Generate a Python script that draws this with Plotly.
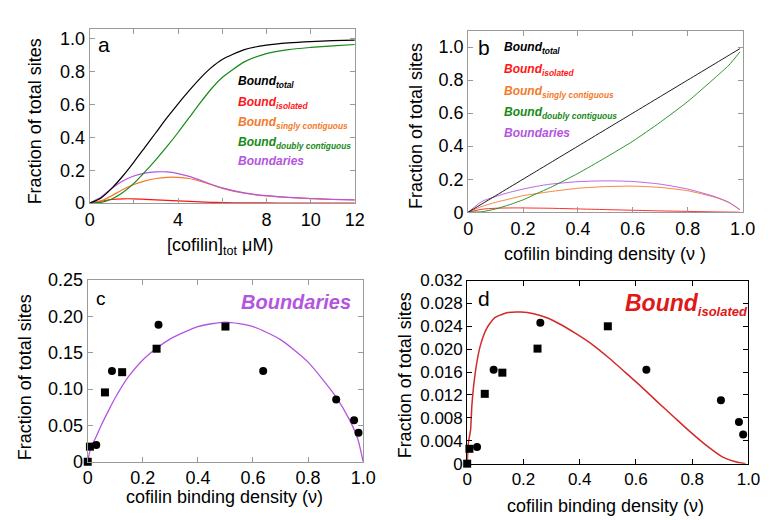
import plotly.graph_objects as go

# ---------------- Panel a data ----------------
a_x = [0, 0.5, 1, 1.5, 2, 2.5, 3, 3.5, 4, 4.5, 5, 5.5, 6, 7, 8, 9, 10, 11, 12]
a_total = [0, 0.03, 0.09, 0.165, 0.25, 0.34, 0.43, 0.52, 0.605, 0.685, 0.76, 0.825, 0.875, 0.935, 0.962, 0.976, 0.984, 0.989, 0.992]
a_isolated = [0, 0.012, 0.022, 0.026, 0.026, 0.023, 0.02, 0.016, 0.013, 0.01, 0.007, 0.005, 0.003, 0.0015, 0.001, 0.0005, 0.0003, 0.0002, 0.0001]
a_singly = [0, 0.012, 0.045, 0.083, 0.113, 0.135, 0.15, 0.157, 0.157, 0.15, 0.133, 0.112, 0.09, 0.06, 0.044, 0.034, 0.027, 0.022, 0.019]
a_doubly = [0, 0.004, 0.025, 0.065, 0.12, 0.19, 0.265, 0.345, 0.43, 0.52, 0.61, 0.695, 0.765, 0.86, 0.91, 0.935, 0.948, 0.958, 0.966]
a_boundaries = [0, 0.035, 0.09, 0.135, 0.165, 0.183, 0.19, 0.19, 0.18, 0.163, 0.14, 0.115, 0.093, 0.062, 0.045, 0.035, 0.028, 0.023, 0.02]
a_xticks = [0, 2, 4, 6, 8, 10, 12]
a_xticktext = ["0", "", "4", "", "8", "10", "12"]

# ---------------- Panel b data ----------------
b_x = [0, 0.05, 0.1, 0.15, 0.2, 0.25, 0.3, 0.4, 0.5, 0.6, 0.7, 0.8, 0.9, 0.95, 0.99]
b_total = [0, 0.05, 0.1, 0.15, 0.2, 0.25, 0.3, 0.4, 0.5, 0.6, 0.7, 0.8, 0.9, 0.95, 0.99]
b_isolated = [0, 0.018, 0.024, 0.026, 0.026, 0.025, 0.024, 0.02, 0.016, 0.012, 0.008, 0.005, 0.002, 0.001, 0]
b_singly = [0, 0.035, 0.06, 0.08, 0.1, 0.113, 0.125, 0.145, 0.155, 0.158, 0.15, 0.13, 0.09, 0.058, 0.015]
b_doubly = [0, 0.003, 0.02, 0.045, 0.075, 0.113, 0.15, 0.235, 0.33, 0.43, 0.545, 0.67, 0.815, 0.89, 0.97]
b_boundaries = [0, 0.065, 0.095, 0.12, 0.14, 0.157, 0.17, 0.185, 0.19, 0.186, 0.17, 0.14, 0.094, 0.06, 0.016]

# ---------------- Panel c data ----------------
c_curve_x = [0, 0.005, 0.01, 0.02, 0.03, 0.05, 0.075, 0.1, 0.125, 0.15, 0.2, 0.25, 0.3, 0.4, 0.5, 0.6, 0.7, 0.8, 0.9, 0.95, 0.98, 1.0]
c_curve_y = [0, 0.01, 0.017, 0.026, 0.034, 0.051, 0.07, 0.088, 0.104, 0.118, 0.14, 0.156, 0.169, 0.186, 0.192, 0.186, 0.168, 0.137, 0.09, 0.058, 0.032, 0]
c_circle_x = [0.031, 0.088, 0.257, 0.637, 0.902, 0.967, 0.983]
c_circle_y = [0.023, 0.125, 0.1886, 0.125, 0.0857, 0.057, 0.0398]
c_square_x = [0, 0.008, 0.0625, 0.125, 0.25, 0.5]
c_square_y = [0, 0.0208, 0.0954, 0.1232, 0.1555, 0.186]

# ---------------- Panel d data ----------------
d_curve_x = [0, 0.004, 0.012, 0.017, 0.029, 0.046, 0.069, 0.098, 0.145, 0.191, 0.237, 0.283, 0.329, 0.387, 0.445, 0.503, 0.561, 0.618, 0.676, 0.734, 0.792, 0.85, 0.907, 0.965, 0.99]
d_curve_y = [0, 0.0035, 0.0059, 0.0104, 0.016, 0.0205, 0.0236, 0.0255, 0.0264, 0.0265, 0.0262, 0.0255, 0.0244, 0.0227, 0.0208, 0.0185, 0.016, 0.0135, 0.0108, 0.0082, 0.0056, 0.0032, 0.0012, 0.0002, 0]
d_circle_x = [0.035, 0.094, 0.26, 0.637, 0.902, 0.966, 0.981]
d_circle_y = [0.0029, 0.0164, 0.0246, 0.0164, 0.0111, 0.0073, 0.0051]
d_square_x = [0, 0.008, 0.0625, 0.125, 0.25, 0.5]
d_square_y = [0, 0.0026, 0.0122, 0.0159, 0.0201, 0.024]

BLACK = "#000000"
RED = "#ff1515"
ORANGE = "#f47a2a"
GREEN = "#168a16"
PURPLE = "#b455e0"
DRED = "#d42a2a"

W, H = 774, 520
def px(x):
    return x / W
def py(y):
    return 1 - y / H

fig = go.Figure()

def line(x, y, color, xa, ya, width=1.2):
    fig.add_trace(go.Scatter(x=x, y=y, mode="lines", line=dict(color=color, width=width, shape="spline", smoothing=0.6),
                             xaxis=xa, yaxis=ya, showlegend=False, hoverinfo="skip"))

# panel a
for ys, col in [(a_isolated, RED), (a_singly, ORANGE), (a_boundaries, PURPLE), (a_doubly, GREEN), (a_total, BLACK)]:
    line(a_x, ys, col, "x", "y")
# panel b
for ys, col in [(b_isolated, RED), (b_singly, ORANGE), (b_boundaries, PURPLE), (b_doubly, GREEN), (b_total, BLACK)]:
    line(b_x, ys, col, "x2", "y2", width=0.9)
# panel c
line(c_curve_x, c_curve_y, PURPLE, "x3", "y3", width=1.3)
fig.add_trace(go.Scatter(x=c_circle_x, y=c_circle_y, mode="markers", marker=dict(symbol="circle", size=8, color=BLACK),
                         xaxis="x3", yaxis="y3", showlegend=False, cliponaxis=False))
fig.add_trace(go.Scatter(x=c_square_x, y=c_square_y, mode="markers", marker=dict(symbol="square", size=8, color=BLACK),
                         xaxis="x3", yaxis="y3", showlegend=False, cliponaxis=False))
# panel d
line(d_curve_x, d_curve_y, DRED, "x4", "y4", width=1.5)
fig.add_trace(go.Scatter(x=d_circle_x, y=d_circle_y, mode="markers", marker=dict(symbol="circle", size=8, color=BLACK),
                         xaxis="x4", yaxis="y4", showlegend=False, cliponaxis=False))
fig.add_trace(go.Scatter(x=d_square_x, y=d_square_y, mode="markers", marker=dict(symbol="square", size=8, color=BLACK),
                         xaxis="x4", yaxis="y4", showlegend=False, cliponaxis=False))

TICKFONT = dict(family="Liberation Sans, Arial, sans-serif", size=18, color="#000")

def ax(domain, anchor, rng, tickvals, ticktext, frame="#9a9a9a", tf=TICKFONT):
    return dict(domain=domain, anchor=anchor, range=rng, tickvals=tickvals, ticktext=ticktext,
                showgrid=False, zeroline=False, showline=True, linecolor=frame, linewidth=1, mirror="ticks",
                ticks="inside", ticklen=5, tickcolor=frame, tickwidth=1, tickfont=tf, fixedrange=True)

fr = [0, 0.2, 0.4, 0.6, 0.8, 1.0]
frt = ["0", "0.2", "0.4", "0.6", "0.8", "1.0"]

dfont = dict(family="Liberation Sans, Arial, sans-serif", size=17, color="#000")

fig.update_layout(
    width=W, height=H, margin=dict(l=0, r=0, t=0, b=0),
    paper_bgcolor="white", plot_bgcolor="white",
    xaxis=ax([px(78.5), px(350)], "y", [0, 12], a_xticks, a_xticktext),
    yaxis=ax([py(192.5), py(11.5)], "x", [0, 1.06], fr, frt),
    xaxis2=ax([px(466), px(747)], "y2", [0, 1.0], fr, frt),
    yaxis2=ax([py(202), py(13)], "x2", [0, 1.1], fr, frt),
    xaxis3=ax([px(76.5), px(358.5)], "y3", [0, 1.0], fr, frt),
    yaxis3=ax([py(461.5), py(272.5)], "x3", [0, 0.25], [0, 0.05, 0.1, 0.15, 0.2, 0.25], ["0", "0.05", "0.10", "0.15", "0.20", "0.25"]),
    xaxis4=ax([px(465), px(753)], "y4", [0, 1.0], fr, frt, frame="#000", tf=dfont),
    yaxis4=ax([py(463.5), py(273)], "x4", [0, 0.032],
              [0, 0.004, 0.008, 0.012, 0.016, 0.02, 0.024, 0.028, 0.032],
              ["0", "0.004", "0.008", "0.012", "0.016", "0.020", "0.024", "0.028", "0.032"], frame="#000", tf=dfont),
)

ann = []
def text(x, y, t, size, color="#000", xanchor="center", yanchor="middle", angle=0, family="Liberation Sans, Arial, sans-serif"):
    ann.append(dict(x=px(x), y=py(y), xref="paper", yref="paper", text=t, showarrow=False,
                    font=dict(size=size, color=color, family=family), xanchor=xanchor, yanchor=yanchor, textangle=angle))

TF = 18
# axis titles
text(22, 107, "Fraction of total sites", TF, angle=-90)
text(212, 238, "[cofilin]<sub>tot</sub> \u03bcM)", TF)
text(412, 112, "Fraction of total sites", TF, angle=-90)
text(606, 245, "cofilin binding density (\u03bd )", TF)
text(12, 374, "Fraction of total sites", TF, angle=-90)
text(217, 498, "cofilin binding density (\u03bd)", TF)
text(401, 372, "Fraction of total sites", TF, angle=-90)
text(607, 507, "cofilin binding density (\u03bd)", TF)

# panel letters
text(93, 28, "a", 21)
text(482, 31, "b", 21)
text(90, 292, "c", 19)
text(482, 292, "d", 21)

def lab(word, sub, color):
    return ("<b><i>" + word + "</i></b><sub><b><i>" + sub + "</i></b></sub>") if sub else "<b><i>" + word + "</i></b>"

legend_items = [("Bound", "total", BLACK), ("Bound", "isolated", RED), ("Bound", "singly contiguous", ORANGE),
                ("Bound", "doubly contiguous", GREEN), ("Boundaries", "", PURPLE)]
for (w, s, c), y in zip(legend_items, [67, 88, 109, 130, 149]):
    text(228, y, lab(w, s, c), 12, color=c, xanchor="left")
for (w, s, c), y in zip(legend_items, [31, 54, 77, 99, 120]):
    text(501, y, lab(w, s, c), 12, color=c, xanchor="left")

text(290, 295, "<b><i>Boundaries</i></b>", 20, color=PURPLE)
text(625, 298, "<b><i>Bound</i></b><sub><b><i><span style='font-size:13px'>isolated</span></i></b></sub>", 23, color="#e01818", xanchor="left")

fig.update_layout(annotations=ann)
fig.write_html("out.html")
